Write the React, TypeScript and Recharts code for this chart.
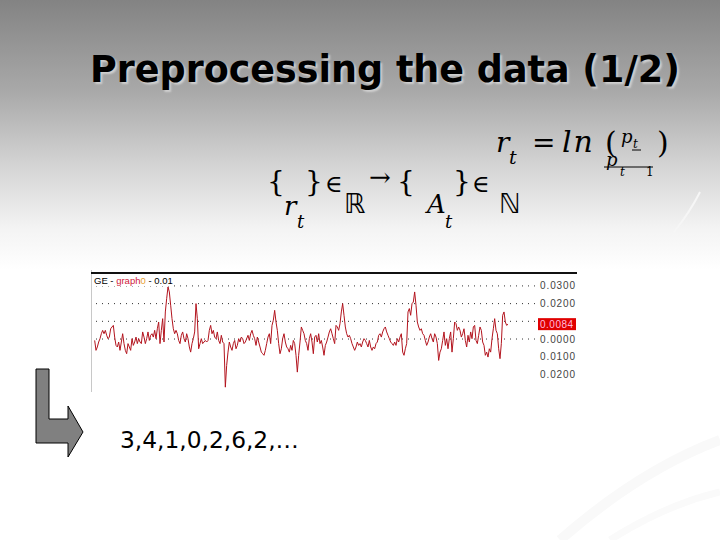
import React from 'react';
import { LineChart, Line, XAxis, YAxis, ReferenceLine } from 'recharts';

// daily log returns, left to right
const returns = [
  -0.0008, -0.0064, -0.0045, -0.0017, 0.0002, 0.003, 0.0049, 0.003, 0.0049, 0.0021,
  0.0002, 0.0011, 0.0058, 0.0068, 0.0077, 0.0011, -0.0036, -0.0045, -0.0017, -0.0064,
  -0.0017, 0.003, -0.0026, -0.0064, -0.0083, -0.0026, -0.0045, -0.0064, 0.0002, -0.0036,
  -0.0017, 0.0011, -0.0026, 0.0002, -0.0017, -0.0026, 0.004, 0.0011, -0.0026, 0.0002,
  0.004, -0.0008, 0.0021, 0.003, 0.0011, 0.0049, 0.0002, 0.0058, 0.0096, -0.0026,
  0.0049, 0.0115, -0.0017, 0.0153, 0.0228, 0.0294, 0.0266, 0.0191, 0.0115, 0.0058,
  0.003, 0.0049,
  0.003, -0.0008, -0.0026, 0.0021, 0.004, 0.0002, -0.0017, 0.003, 0.0002, -0.0045,
  -0.0074, -0.0026, 0.0002, 0.004, 0.02, 0.0115, -0.0055, -0.0026, 0.0002, -0.0026,
  -0.0017, -0.0008, -0.0017, -0.0008, 0.0049, 0.0077, 0.003, 0.0049, 0.0011, 0.0002,
  0.004, -0.0008, -0.0026, 0.0021, -0.0017, -0.0026, -0.0272, -0.0149, -0.0074, -0.0017,
  -0.0045, -0.0064, -0.0026, -0.0008, -0.0055, -0.0036, 0.0002, -0.0017, 0.0011, 0.0002,
  -0.0026, -0.0017, 0.0002, 0.0021, -0.0008, 0.003, 0.0049, 0.0021, 0.0002, -0.0036,
  0.0011, -0.0017, -0.0045,
  -0.0074, -0.0083, -0.0092, -0.0064, -0.0026, 0.0011, 0.003, -0.0026, 0.0077, 0.0106,
  0.0162, 0.0096, 0.0049, -0.0026, -0.0083, -0.0055, 0.0002, 0.003, -0.0017, -0.0045,
  -0.0055, -0.0074, -0.0036, -0.0064, -0.0008, -0.0026, -0.0092, -0.0187, -0.0092, -0.0017,
  0.0068, 0.0049, 0.003, -0.0008, -0.0026, -0.0064, 0.0002, 0.003, -0.0017, -0.0083,
  0.0011, 0.0021, -0.0017, 0.003, -0.0026, -0.0008, -0.0045, -0.0092, -0.0036, -0.0017,
  0.0011, 0.004, 0.0058, 0.003, 0.0002, -0.0026, 0.0077, 0.0068, 0.0049, 0.0087,
  0.0153, 0.02, 0.0134,
  0.0068, 0.003, 0.0011, 0.0021, 0.0002, -0.0026, -0.0045, -0.0064, -0.0045, -0.0017,
  -0.0036, -0.0026, -0.0045, -0.0017, 0.0002, -0.0008, -0.0026, -0.0045, -0.0008, -0.0045,
  -0.0064, -0.0045, -0.0055, -0.0026, -0.0017, 0.0021, 0.003, 0.0011, 0.004, 0.0058,
  0.0068, 0.004, 0.0021, 0.0002, -0.0017, -0.0026, -0.0036, -0.0017, -0.0036, 0.0002,
  -0.0017, 0.0011, 0.003, -0.0074, -0.0092, -0.0055, -0.0026, 0.0153, 0.0172, 0.0134,
  0.02, 0.0209, 0.0266, 0.0191, 0.0096, 0.0068, 0.0049, 0.0058, 0.003, 0.0021,
  -0.0008, -0.0036, -0.0017,
  0.0011, 0.003, 0.0002, -0.0017, 0.003, 0.0011, -0.0026, -0.0121, -0.0074, -0.0055,
  -0.0008, 0.004, -0.0036, 0.0002, -0.0055, 0.0002, 0.004, -0.0074, 0.0002, 0.0096,
  0.0087, 0.0049, 0.0068, 0.0049, 0.0011, 0.003, 0.0058, -0.0008, -0.0045, 0.0021,
  -0.0017, 0.004, 0.0002, 0.0068, 0.0077, -0.0008, -0.0026, 0.0021, 0.0068, 0.0049,
  -0.0017, -0.0036, -0.0092, -0.0074, -0.0102, -0.0055, -0.0074, 0.0002, 0.0058, 0.0115,
  0.0049, 0.003, -0.0055, -0.0111, -0.0026, 0.0134, 0.0153, 0.0096, 0.0077, 0.0084,
];

const axisTicks = [0.03, 0.02, 0, -0.01, -0.02];
const gridLevels = [0.03, 0.02, 0.01, 0];
const lastValue = 0.0084;
const symbols = [3, 4, 1, 0, 2, 6, 2];

const data = returns.map((r, i) => ({ i, r }));

const fmt = (v: number) => Math.abs(v).toFixed(4);

const AxisTick = (props: any) => {
  const { y, payload } = props;
  return (
    <text x={449} y={y + 3.5} fontSize={10} letterSpacing={0.9} fill='#444' fontFamily='Liberation Sans, Arial'>
      {fmt(payload.value)}
    </text>
  );
};

const LastTag = (props: any) => {
  const vb = props.viewBox || {};
  const x = vb.x + vb.width + 3;
  return (
    <g>
      <rect x={x} y={vb.y - 6} width={38} height={12} fill='#e00000' />
      <text x={x + 2} y={vb.y + 3.5} fontSize={10} letterSpacing={0.5} fill='#fbd' fontFamily='Liberation Sans, Arial'>
        {fmt(lastValue)}
      </text>
    </g>
  );
};

const serif = 'DejaVu Serif, serif';

export default function App() {
  return (
    <div style={{ position: 'fixed', left: 0, top: 0, width: 720, height: 540, overflow: 'hidden', background: '#fff' }}>
      <svg width={720} height={540} style={{ position: 'absolute', left: 0, top: 0 }}>
        <defs>
          <linearGradient id='bg' x1='0' y1='0' x2='0' y2='1'>
            <stop offset='0' stopColor='#838383' />
            <stop offset='0.17' stopColor='#a9a9a9' />
            <stop offset='0.3' stopColor='#d2d2d2' />
            <stop offset='0.42' stopColor='#f3f3f3' />
            <stop offset='0.5' stopColor='#ffffff' />
            <stop offset='1' stopColor='#ffffff' />
          </linearGradient>
        </defs>
        <rect x={0} y={0} width={720} height={540} fill='url(#bg)' />
        {/* faint swooshes */}
        <path d='M560 540 Q640 470 720 440' stroke='#f9f9f9' strokeWidth={10} fill='none' />
        <path d='M610 540 Q665 505 720 492' stroke='#fafafa' strokeWidth={7} fill='none' />
        <path d='M674 232 Q690 212 700 192' stroke='#f6f6f6' strokeWidth={2} fill='none' />

        <text x={90} y={82} fontFamily='DejaVu Sans, sans-serif' fontWeight='bold' fontSize={36.5}
          fill='#000' style={{ textShadow: '2px 2px 2px #d0d0d0' }}>
          Preprocessing the data (1/2)
        </text>

        {/* r_t = ln(p_t / p_t-1) */}
        <g fontFamily={serif} fill='#000'>
          <text x={496} y={152} fontSize={28} fontStyle='italic'>r</text>
          <text x={509} y={164} fontSize={19} fontStyle='italic'>t</text>
          <text x={532} y={152} fontSize={28}>=</text>
          <text x={562} y={152} fontSize={30} fontStyle='italic' letterSpacing={2}>ln</text>
          <text x={605} y={153} fontSize={30}>(</text>
          <text x={621} y={143} fontSize={18} fontStyle='italic'>p</text>
          <text x={633} y={148} fontSize={12} fontStyle='italic'>t</text>
          <line x1={632} x2={641} y1={150} y2={150} stroke='#000' strokeWidth={1} />
          <text x={606} y={166} fontSize={18} fontStyle='italic'>p</text>
          <line x1={604} x2={653} y1={167} y2={167} stroke='#000' strokeWidth={1} />
          <text x={620} y={176} fontSize={12} fontStyle='italic'>t</text>
          <text x={646} y={176} fontSize={12}>1</text>
          <text x={657} y={153} fontSize={30}>)</text>

          {/* {r_t} in R -> {A_t} in N */}
          <text x={267} y={191} fontSize={28}>{'{'}</text>
          <text x={305} y={191} fontSize={28}>{'}'}</text>
          <text x={325} y={192} fontSize={24}>∈</text>
          <text x={344} y={213} fontSize={27} fontFamily='DejaVu Sans, sans-serif'>ℝ</text>
          <text x={369} y={186} fontSize={26}>→</text>
          <text x={397} y={191} fontSize={28}>{'{'}</text>
          <text x={453} y={191} fontSize={28}>{'}'}</text>
          <text x={472} y={192} fontSize={24}>∈</text>
          <text x={499} y={213} fontSize={27} fontFamily='DejaVu Sans, sans-serif'>ℕ</text>
          <text x={284} y={215} fontSize={26} fontStyle='italic'>r</text>
          <text x={297} y={228} fontSize={18} fontStyle='italic'>t</text>
          <text x={427} y={213} fontSize={26} fontStyle='italic'>A</text>
          <text x={445} y={228} fontSize={18} fontStyle='italic'>t</text>
        </g>

        {/* bent arrow */}
        <polygon points='36,369 49,369 49,419 68,419 68,406 83,432 68,457 68,443 36,443'
          fill='#808080' stroke='#000' strokeWidth={1} />
        <text x={120} y={448} fontFamily='DejaVu Sans, sans-serif' fontSize={23.3} fill='#000'>
          {symbols.join(',') + ',…'}
        </text>
      </svg>

      {/* chart frame */}
      <div style={{ position: 'absolute', left: 91, top: 270, width: 1, height: 122, background: '#c8c8c8' }} />
      <div style={{ position: 'absolute', left: 91, top: 272, width: 486, height: 2, background: '#111' }} />
      <div style={{ position: 'absolute', left: 91, top: 273 }}>
        <LineChart width={486} height={120} data={data} margin={{ top: 0, right: 0, bottom: 0, left: 0 }}>
          <XAxis dataKey='i' type='number' domain={[-2.75, returns.length - 1 + 20.25]} hide />
          <YAxis orientation='right' width={42} domain={[-0.0305, 0.0373]} ticks={axisTicks}
            axisLine={false} tickLine={false} tick={<AxisTick />} interval={0} />
          {gridLevels.map((g) => (
            <ReferenceLine key={g} y={g} stroke='#333' strokeDasharray='1 5' />
          ))}
          <ReferenceLine y={lastValue} stroke='none' label={<LastTag />} />
          <Line type='linear' dataKey='r' stroke='#b3141e' strokeWidth={1} dot={false} isAnimationActive={false} />
        </LineChart>
      </div>
      <div style={{ position: 'absolute', left: 94, top: 275, fontFamily: 'Liberation Sans, Arial', fontSize: 9.5, color: '#000', background: '#fff', lineHeight: '11px' }}>
        GE - <span style={{ color: '#d0203a' }}>graph</span><span style={{ color: '#e8a030' }}>0</span> - 0.01
      </div>
    </div>
  );
}
